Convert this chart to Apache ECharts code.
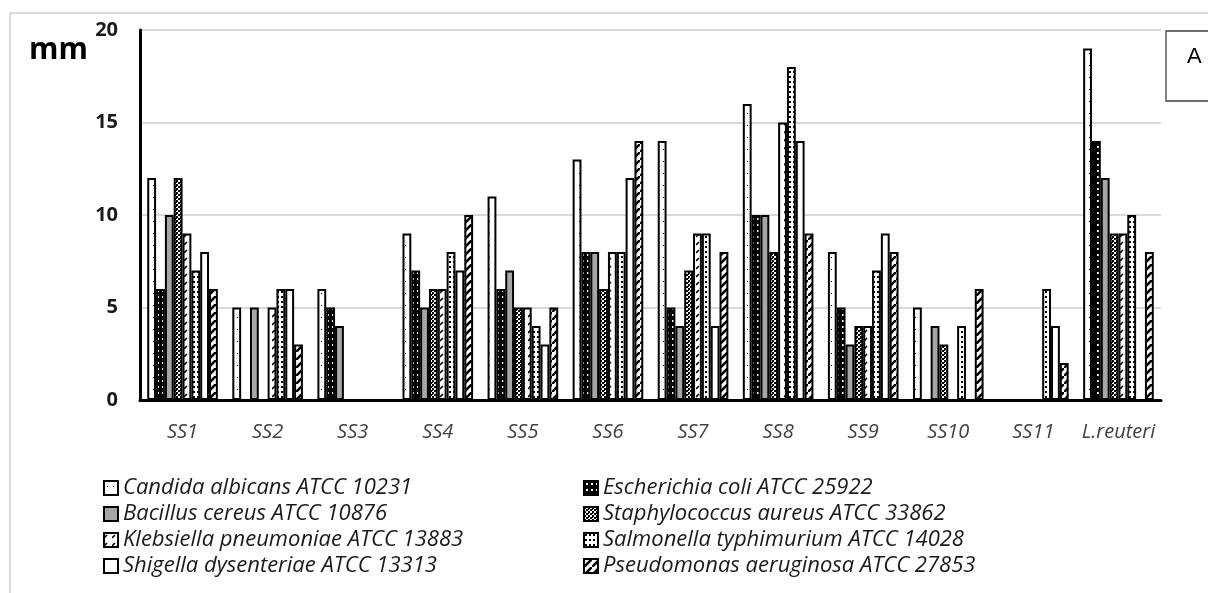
<!DOCTYPE html>
<html>
<head>
<meta charset="utf-8">
<script src="https://cdn.jsdelivr.net/npm/echarts@6/dist/echarts.min.js"></script>
<style>
html,body{margin:0;padding:0;background:#fff;}
#chart{width:1208px;height:593px;}
</style>
</head>
<body>
<div id="chart"></div>
<script>
const categories = ['SS1','SS2','SS3','SS4','SS5','SS6','SS7','SS8','SS9','SS10','SS11','L.reuteri'];
const yTicks = [0, 5, 10, 15, 20];
const seriesNames = [
  'Candida albicans ATCC 10231',
  'Escherichia coli ATCC 25922',
  'Bacillus cereus ATCC 10876',
  'Staphylococcus aureus ATCC 33862',
  'Klebsiella pneumoniae ATCC 13883',
  'Salmonella typhimurium ATCC 14028',
  'Shigella dysenteriae ATCC 13313',
  'Pseudomonas aeruginosa ATCC 27853'
];
const candida  = [12, 5, 6, 9, 11, 13, 14, 16, 8, 5, 0, 19];
const ecoli    = [ 6, 0, 5, 7,  6,  8,  5, 10, 5, 0, 0, 14];
const bacillus = [10, 5, 4, 5,  7,  8,  4, 10, 3, 4, 0, 12];
const staph    = [12, 0, 0, 6,  5,  6,  7,  8, 4, 3, 0,  9];
const kleb     = [ 9, 5, 0, 6,  5,  8,  9, 15, 4, 0, 0,  9];
const salm     = [ 7, 6, 0, 8,  4,  8,  9, 18, 7, 4, 6, 10];
const shig     = [ 8, 6, 0, 7,  3, 12,  4, 14, 9, 0, 4,  0];
const pseud    = [ 6, 3, 0,10,  5, 14,  8,  9, 8, 6, 2,  8];
const values = [candida, ecoli, bacillus, staph, kleb, salm, shig, pseud];

function tile(w, h, bg, draw) {
  const c = document.createElement('canvas');
  c.width = w; c.height = h;
  const ctx = c.getContext('2d');
  ctx.fillStyle = bg; ctx.fillRect(0, 0, w, h);
  if (draw) draw(ctx);
  return { image: c, repeat: 'repeat' };
}
const fills = [
  tile(6, 12, '#ffffff', ctx => { ctx.fillStyle = '#000'; ctx.fillRect(3, 5, 1, 1); }),
  tile(5, 6, '#000000', ctx => { ctx.fillStyle = '#fff'; ctx.fillRect(2, 2, 2, 2); }),
  '#a6a6a6',
  tile(4, 4, '#ffffff', ctx => { ctx.fillStyle = '#000'; ctx.fillRect(0, 0, 2, 2); ctx.fillRect(2, 2, 2, 2); ctx.fillRect(0, 2, 1, 1); }),
  tile(8, 8, '#ffffff', ctx => { ctx.strokeStyle = '#000'; ctx.lineWidth = 1.6; ctx.beginPath(); ctx.moveTo(0, 5); ctx.lineTo(3, 2); ctx.stroke(); }),
  tile(4, 5, '#ffffff', ctx => { ctx.fillStyle = '#000'; ctx.fillRect(1, 1, 2, 2); }),
  '#ffffff',
  tile(8, 8, '#ffffff', ctx => { ctx.strokeStyle = '#000'; ctx.lineWidth = 2.6; ctx.beginPath(); ctx.moveTo(-2, 10); ctx.lineTo(10, -2); ctx.stroke(); })
];

const series = seriesNames.map((name, i) => ({
  name: name,
  type: 'bar',
  data: values[i],
  barGap: '0%',
  barCategoryGap: '17%',
  itemStyle: { color: fills[i], borderColor: '#000', borderWidth: 2 },
  emphasis: { disabled: true },
  animation: false
}));

const legendText = { fontFamily: 'Open Sans', fontStyle: 'italic', fontSize: 22, color: '#1a1a1a', lineHeight: 22 };
const chart = echarts.init(document.getElementById('chart'), null, { renderer: 'canvas' });
chart.setOption({
  backgroundColor: '#ffffff',
  animation: false,
  grid: { left: 140, right: 47, top: 30, bottom: 193, containLabel: false },
  xAxis: {
    type: 'category',
    data: categories,
    axisLine: { lineStyle: { color: '#000', width: 3 } },
    axisTick: { show: false },
    axisLabel: { interval: 0, margin: 22, fontFamily: 'Open Sans', fontStyle: 'italic', fontSize: 20, color: '#404040' }
  },
  yAxis: {
    type: 'value',
    min: yTicks[0], max: yTicks[yTicks.length - 1], interval: 5,
    axisLine: { show: true, lineStyle: { color: '#000', width: 3 } },
    axisTick: { show: false },
    splitLine: { lineStyle: { color: '#d9d9d9', width: 2 } },
    axisLabel: { margin: 22, fontFamily: 'Open Sans', fontWeight: 'bold', fontSize: 20, color: '#1a1a1a' }
  },
  legend: [
    { orient: 'vertical', left: 98, top: 472, padding: 5, itemWidth: 14, itemHeight: 14, itemGap: 4,
      icon: 'rect', textStyle: legendText, selectedMode: false,
      data: [seriesNames[0], seriesNames[2], seriesNames[4], seriesNames[6]] },
    { orient: 'vertical', left: 578, top: 472, padding: 5, itemWidth: 14, itemHeight: 14, itemGap: 4,
      icon: 'rect', textStyle: legendText, selectedMode: false,
      data: [seriesNames[1], seriesNames[3], seriesNames[5], seriesNames[7]] }
  ],
  graphic: [
    { type: 'line', shape: { x1: 10, y1: 13, x2: 1208, y2: 13 }, style: { stroke: '#d9d9d9', lineWidth: 2 }, silent: true },
    { type: 'line', shape: { x1: 10, y1: 13, x2: 10, y2: 593 }, style: { stroke: '#d9d9d9', lineWidth: 2 }, silent: true },
    { type: 'text', left: 29, top: 35, style: { text: 'mm', fontFamily: 'Open Sans', fontWeight: 'bold', fontSize: 30, fill: '#000' } },
    { type: 'rect', shape: { x: 1166, y: 31, width: 60, height: 70 }, style: { fill: '#fff', stroke: '#404040', lineWidth: 1.3 } },
    { type: 'text', x: 1187, y: 46, style: { text: 'A', fontFamily: 'Liberation Sans', fontSize: 22, fill: '#000' } }
  ],
  series: series
});
</script>
</body>
</html>
